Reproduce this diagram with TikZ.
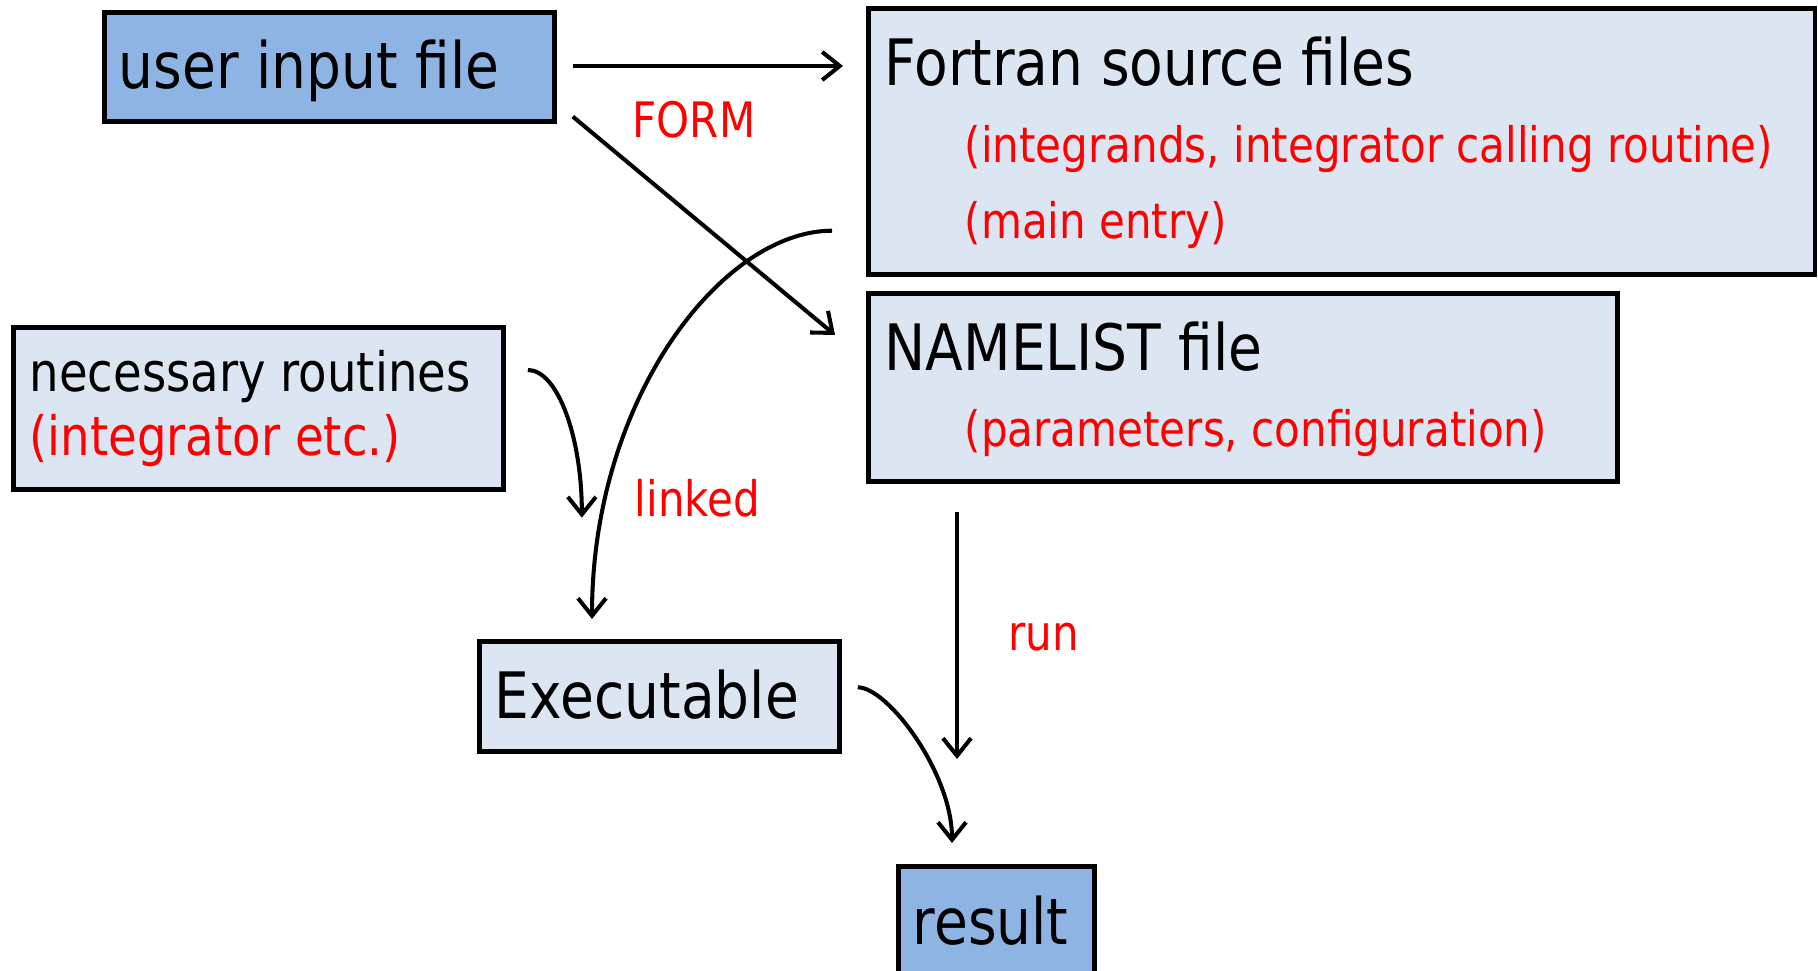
\documentclass[tikz,border=0pt]{standalone}
\usepackage{xcolor}
\usepackage{fontspec}
\setmainfont{DejaVu Sans}[FakeStretch=0.86]
\usepackage{tikz}
\usetikzlibrary{calc, arrows.meta}

\definecolor{boxblue}{HTML}{8EB4E3}
\definecolor{boxpale}{HTML}{DCE6F2}

\begin{document}
\begin{tikzpicture}[
  % pixel-like units, y pointing down
  x=0.01cm,
  y=-0.01cm,
  box/.style={draw=black, line width=1.3pt, inner sep=0pt, anchor=north west},
  darkbox/.style={box, fill=boxblue},
  palebox/.style={box, fill=boxpale},
  big/.style={anchor=base west, inner sep=0pt, font=\fontsize{18.2pt}{22pt}\selectfont},
  mid/.style={anchor=base west, inner sep=0pt, font=\fontsize{15.4pt}{18pt}\selectfont},
  note/.style={anchor=base west, inner sep=0pt, text=red, font=\fontsize{13.9pt}{17pt}\selectfont},
  flow/.style={-{Straight Barb[length=5pt,width=8pt]}, line width=1.15pt}
]
  \clip (0,0) rectangle (1818,971);

  % Boxes
  \node[darkbox, minimum width=4.50cm, minimum height=1.09cm] (user) at (102,10) {};
  \node[palebox, minimum width=9.46cm, minimum height=2.66cm] (fortran) at (866,6) {};
  \node[palebox, minimum width=7.49cm, minimum height=1.88cm] (namelist) at (866,291) {};
  \node[palebox, minimum width=4.90cm, minimum height=1.62cm] (needed) at (11,325) {};
  \node[palebox, minimum width=3.60cm, minimum height=1.10cm] (exe) at (477,639) {};
  \node[darkbox, minimum width=1.96cm, minimum height=1.40cm] (result) at (896,864) {};

  % Box texts
  \node[big] (usertxt) at (118,89) {user input file};
  \node[big] (fortrantxt) at (884,86) {Fortran source files};
  \node[note] (fortranone) at (964,163) {(integrands, integrator calling routine)};
  \node[note] (fortrantwo) at (964,239) {(main entry)};
  \node[big] (namelisttxt) at (884,371) {NAMELIST file};
  \node[note] (namelistone) at (964,447) {(parameters, configuration)};
  \node[mid] (neededtxt) at (29,392) {necessary routines};
  \node[mid, text=red] (neededone) at (29,456) {(integrator etc.)};
  \node[big] (exetxt) at (494,719) {Executable};
  \node[big] (resulttxt) at (912,945) {result};

  % Arrow labels
  \node[note] (formlbl) at (632,138) {FORM};
  \node[note] (linkedlbl) at (634,517) {linked};
  \node[note] (runlbl) at (1008,651) {run};

  % Arrows
  \draw[flow] ($(user.north east)+(16,56)$) -- ($(fortran.north west)+(-23,60)$);
  \draw[flow] ($(user.south east)+(16,-7)$) -- ($(namelist.north west)+(-31,44)$);
  \draw[flow] ($(fortran.south west)+(-34,-46)$) .. controls +(-110,0) and +(0,-220) .. ($(exe.north west)+(115,-20)$);
  \draw[flow] ($(needed.north east)+(22,45)$) .. controls +(30,0) and +(0,-80) .. ($(needed.south east)+(76,26)$);
  \draw[flow] ($(namelist.south west)+(91,28)$) -- ($(result.north west)+(61,-105)$);
  \draw[flow] ($(exe.east)+(16,-9)$) .. controls +(30,0) and +(0,-70) .. ($(result.north west)+(56,-21)$);
\end{tikzpicture}
\end{document}
